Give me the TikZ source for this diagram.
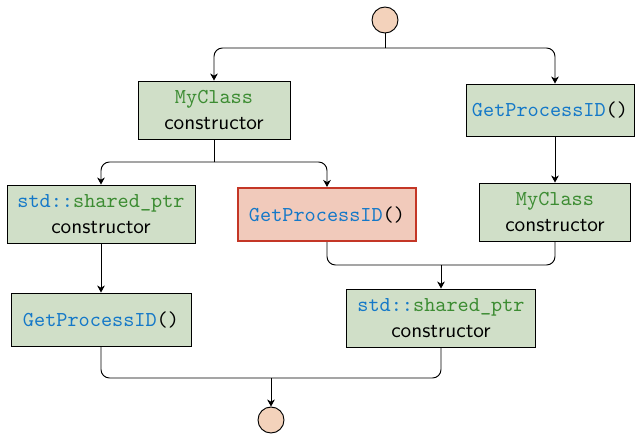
\documentclass[tikz,border=0pt]{standalone}
\usetikzlibrary{positioning,arrows.meta}
\definecolor{boxgreen}{RGB}{208,223,200}
\definecolor{boxred}{RGB}{241,202,187}
\definecolor{redline}{RGB}{196,54,38}
\definecolor{endfill}{RGB}{243,210,187}
\definecolor{codeblue}{RGB}{20,120,200}
\definecolor{codegreen}{RGB}{60,140,50}
\newcommand{\fncall}[1]{\texttt{\textcolor{codeblue}{#1}()}}
\newcommand{\clsname}[1]{\texttt{\textcolor{codegreen}{#1}}}
\newcommand{\sptr}{\texttt{\textcolor{codeblue}{std::}\textcolor{codegreen}{shared\_ptr}}}
\def\px{0.471pt}
\begin{document}
\begin{tikzpicture}[>={Stealth[length=3.3pt,width=3.6pt,inset=1pt]},x=\px,y=-\px,
	font=\sffamily,line width=0.45pt,
	stepbox/.style={draw,fill=boxgreen,align=center,inner sep=0pt},
	hotbox/.style={stepbox,draw=redline,fill=boxred,line width=1pt},
	endpoint/.style={draw,circle,fill=endfill,minimum size=26*\px,inner sep=0pt}]
\useasboundingbox (0,0) rectangle (639,435);
% start and end
\node[endpoint] (start) at (385,20) {};
\node[endpoint] (stop) at (271,420) {};
% left thread
\node[stepbox,minimum width=152*\px,minimum height=58*\px] (ctor) at (214,110)
	{\clsname{MyClass}\\constructor};
\node[stepbox,minimum width=188*\px,minimum height=58*\px] (ptrA) at (101,214)
	{\sptr\\constructor};
\node[hotbox,minimum width=178*\px,minimum height=53*\px] (pidB) at (327,214.5)
	{\fncall{GetProcessID}};
\node[stepbox,minimum width=180*\px,minimum height=53*\px] (pidA) at (101,319.5)
	{\fncall{GetProcessID}};
% right thread
\node[stepbox,minimum width=168*\px,minimum height=52*\px] (pidC) at (550,110)
	{\fncall{GetProcessID}};
\node[stepbox,minimum width=151*\px,minimum height=58*\px] (ctorB) at (555,212)
	{\clsname{MyClass}\\constructor};
\node[stepbox,minimum width=189*\px,minimum height=58*\px] (ptrB) at (441,318)
	{\sptr\\constructor};
% junctions
\coordinate (fork) at (385,48);
\coordinate (split) at (214,162);
\coordinate (join) at (441,265);
\coordinate (merge) at (271,378);
\draw (start) -- (fork);
\draw[->,rounded corners=4pt] (fork) -| (ctor.north);
\draw[->,rounded corners=4pt] (fork) -| (ctorB.north |- pidC.north);
\draw (ctor.south) -- (split);
\draw[->,rounded corners=4pt] (split) -| (ptrA.north);
\draw[->,rounded corners=4pt] (split) -| (pidB.north);
\draw[->] (ptrA) -- (pidA);
\draw[->] (ctorB.north |- pidC.south) -- (ctorB.north);
\draw[rounded corners=4pt] (pidB.south) |- (join) -| (ctorB.south);
\draw[->] (join) -- (ptrB.north);
\draw[rounded corners=4pt] (pidA.south) |- (merge) -| (ptrB.south);
\draw[->] (merge) -- (stop);
\end{tikzpicture}
\end{document}
